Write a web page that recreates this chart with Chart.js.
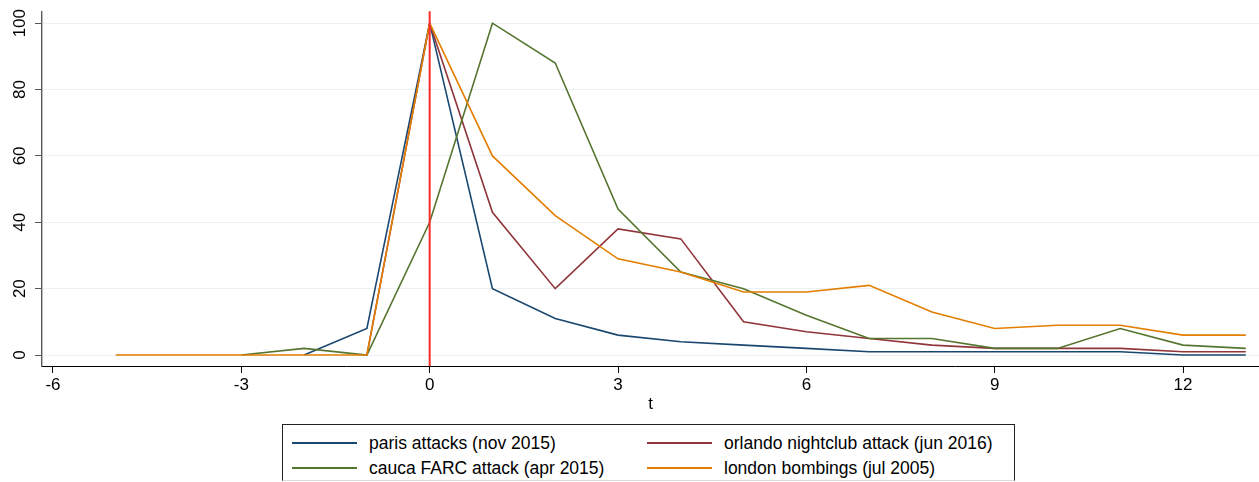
<!DOCTYPE html>
<html>
<head>
<meta charset="utf-8">
<script src="https://cdn.jsdelivr.net/npm/chart.js@4/dist/chart.umd.min.js"></script>
<style>
  html, body { margin: 0; padding: 0; background: #fff; }
  #wrap { position: relative; width: 1259px; height: 482px; overflow: hidden; font-family: "Liberation Sans", Arial, sans-serif; }
  #chart { position: absolute; left: 0; top: 0; }
  #legend {
    position: absolute; left: 282px; top: 424px; width: 733px; height: 57px;
    border: 1px solid #222; border-bottom-color: #d8dde0; box-sizing: border-box; background: #fff;
  }
  .item { position: absolute; height: 24px; display: flex; align-items: center; font-size: 17.5px; color: #000; white-space: nowrap; }
  .swatch { display: inline-block; width: 65px; height: 2px; margin-right: 12px; }
</style>
</head>
<body>
<div id="wrap">
  <canvas id="chart" width="1259" height="482"></canvas>
  <div id="legend"></div>
</div>
<script>
// weeks relative to the event (t = 0)
const weeks = [-5, -4, -3, -2, -1, 0, 1, 2, 3, 4, 5, 6, 7, 8, 9, 10, 11, 12, 13];

// search interest, each series scaled to its own peak (= 100)
const paris   = [null, null, null, 0, 8, 100, 20, 11, 6, 4, 3, 2, 1, 1, 1, 1, 1, 0, 0];
const orlando = [null, null, null, null, 0, 100, 43, 20, 38, 35, 10, 7, 5, 3, 2, 2, 2, 1, 1];
const cauca   = [null, null, 0, 2, 0, 40, 100, 88, 44, 25, 20, 12, 5, 5, 2, 2, 8, 3, 2];
const london  = [0, 0, 0, 0, 0, 100, 60, 42, 29, 25, 19, 19, 21, 13, 8, 9, 9, 6, 6];

const seriesNames  = ["paris attacks (nov 2015)", "orlando nightclub attack (jun 2016)",
                      "cauca FARC attack (apr 2015)", "london bombings (jul 2005)"];
const seriesColors = ["#1a476f", "#90353b", "#55752f", "#e37e00"];
const seriesValues = [paris, orlando, cauca, london];

const xTicks = [-6, -3, 0, 3, 6, 9, 12];
const yTicks = [0, 20, 40, 60, 80, 100];
const eventWeek = 0;

function points(values) {
  const out = [];
  values.forEach((v, i) => { if (v !== null) out.push({ x: weeks[i], y: v }); });
  return out;
}

const datasets = seriesValues.map((vals, i) => ({
  label: seriesNames[i],
  data: points(vals),
  borderColor: seriesColors[i],
  backgroundColor: seriesColors[i],
  borderWidth: 1.6,
  pointRadius: 0,
  tension: 0,
  order: seriesValues.length - i
}));

// vertical marker at the event week
const eventLine = {
  id: 'eventLine',
  afterDatasetsDraw(chart) {
    const { ctx, chartArea, scales } = chart;
    const x = scales.x.getPixelForValue(eventWeek);
    ctx.save();
    ctx.strokeStyle = '#ff2a2a';
    ctx.lineWidth = 2;
    ctx.beginPath();
    ctx.moveTo(x, chartArea.top);
    ctx.lineTo(x, chartArea.bottom);
    ctx.stroke();
    ctx.restore();
  }
};

Chart.defaults.font.family = '"Liberation Sans", Arial, sans-serif';
Chart.defaults.color = '#000';

new Chart(document.getElementById('chart'), {
  type: 'line',
  data: { datasets },
  plugins: [eventLine],
  options: {
    responsive: false,
    animation: false,
    events: [],
    layout: { padding: { top: 10, left: 0, right: 0, bottom: 67 } },
    plugins: { legend: { display: false }, tooltip: { enabled: false } },
    scales: {
      x: {
        type: 'linear',
        min: -6.175,
        max: 13.21,
        afterBuildTicks: s => { s.ticks = xTicks.map(v => ({ value: v })); },
        afterFit: s => { s.height = 49; },
        grid: { drawOnChartArea: false, drawTicks: true, tickLength: 7, tickColor: '#000', lineWidth: 1 },
        border: { display: true, color: '#000', width: 1 },
        ticks: { font: { size: 17 }, padding: 2, maxRotation: 0, minRotation: 0, autoSkip: false },
        title: { display: true, text: 't', font: { size: 17 }, padding: { top: 0, bottom: 0 } }
      },
      y: {
        type: 'linear',
        min: -3.3,
        max: 103.6,
        afterBuildTicks: s => { s.ticks = yTicks.map(v => ({ value: v })); },
        afterFit: s => { s.width = 42; },
        grid: { drawOnChartArea: true, color: '#eaf2f3', lineWidth: 1, drawTicks: true, tickLength: 7, tickColor: '#555' },
        border: { display: true, color: '#5a5a5a', width: 1.4 },
        ticks: { font: { size: 17 }, padding: 1, minRotation: 90, maxRotation: 90, crossAlign: 'center', autoSkip: false }
      }
    }
  }
});

// legend box: two columns, two rows
const legend = document.getElementById('legend');
const slots = [
  { left: 9,  top: 6 },  { left: 364, top: 6 },
  { left: 9,  top: 31 }, { left: 364, top: 31 }
];
seriesNames.forEach((name, i) => {
  const el = document.createElement('div');
  el.className = 'item';
  el.style.left = slots[i].left + 'px';
  el.style.top = slots[i].top + 'px';
  const sw = document.createElement('span');
  sw.className = 'swatch';
  sw.style.background = seriesColors[i];
  const tx = document.createElement('span');
  tx.textContent = name;
  el.appendChild(sw);
  el.appendChild(tx);
  legend.appendChild(el);
});
</script>
</body>
</html>
